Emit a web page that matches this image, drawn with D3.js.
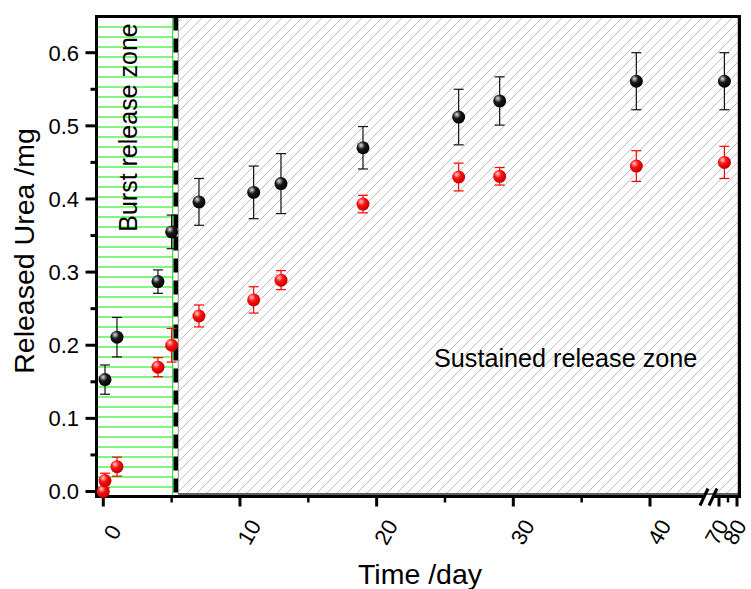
<!DOCTYPE html>
<html>
<head>
<meta charset="utf-8">
<script src="https://cdn.jsdelivr.net/npm/d3@7"></script>
<style>
  body { margin: 0; background: #fff; }
  text { font-family: Arial, "Liberation Sans", sans-serif; fill: #000; }
</style>
</head>
<body>
<div id="chart"></div>
<script>
// data
const blackDays = [0.125, 1, 4, 5, 7, 11, 13, 19, 26, 29, 39, 73];
const blackValues = [0.153, 0.211, 0.287, 0.355, 0.396, 0.409, 0.421, 0.470, 0.512, 0.534, 0.561, 0.561];
const blackErrors = [0.020, 0.027, 0.016, 0.023, 0.032, 0.036, 0.041, 0.029, 0.038, 0.033, 0.039, 0.039];

const redDays = [0, 0.125, 1, 4, 5, 7, 11, 13, 19, 26, 29, 39, 73];
const redValues = [0.000, 0.015, 0.034, 0.170, 0.200, 0.240, 0.262, 0.289, 0.393, 0.430, 0.431, 0.445, 0.450];
const redErrors = [0.005, 0.010, 0.013, 0.013, 0.023, 0.015, 0.018, 0.013, 0.012, 0.019, 0.012, 0.021, 0.022];

const yTicks = [0, 0.1, 0.2, 0.3, 0.4, 0.5, 0.6];
const xTicksLeft = [0, 10, 20, 30, 40];
const xTicksRight = [70, 80];
const burstEnd = 5.3; // day where the dashed separator sits

const width = 751, height = 589;
const plotLeft = 96.5, plotRight = 739.5, plotTop = 16.5, plotBottom = 496.5;
const breakAt = 703, resumeAt = 714;

const svg = d3.select("#chart").append("svg")
  .attr("width", width)
  .attr("height", height);

// scales: a broken x axis (0-44 | 70-80)
const x1 = d3.scaleLinear().domain([0, 40]).range([103.3, 650]);
const x2 = d3.scaleLinear().domain([70, 80]).range([719, 737]);
const x = d => d > 50 ? x2(d) : x1(d);
const y = d3.scaleLinear().domain([0, 0.6]).range([491.5, 52.7]);

const defs = svg.append("defs");

// grey diagonal hatch
const hatch = defs.append("pattern")
  .attr("id", "hatch")
  .attr("patternUnits", "userSpaceOnUse")
  .attr("width", 10).attr("height", 10);
hatch.append("path")
  .attr("d", "M0,10 L10,0 M-2,2 L2,-2 M8,12 L12,8")
  .attr("stroke", "#bdbdbd")
  .attr("stroke-width", 1);

// green horizontal hatch
const greenHatch = defs.append("pattern")
  .attr("id", "greenHatch")
  .attr("patternUnits", "userSpaceOnUse")
  .attr("x", 0).attr("y", 6.5)
  .attr("width", 10).attr("height", 10);
greenHatch.append("line")
  .attr("x1", 0).attr("x2", 10).attr("y1", 0.5).attr("y2", 0.5)
  .attr("stroke", "#00f000").attr("stroke-width", 1);

// shaded sphere markers
function sphere(id, hi, mid, edge) {
  const g = defs.append("radialGradient").attr("id", id)
    .attr("cx", "38%").attr("cy", "35%").attr("r", "65%").attr("fx", "35%").attr("fy", "30%");
  g.append("stop").attr("offset", "0%").attr("stop-color", hi);
  g.append("stop").attr("offset", "45%").attr("stop-color", mid);
  g.append("stop").attr("offset", "100%").attr("stop-color", edge);
}
sphere("ballBlack", "#e0e0e0", "#1a1a1a", "#000");
sphere("ballRed", "#ffd0d0", "#ff1010", "#c00000");

// zones
const burstX = x1(burstEnd);
svg.append("rect")
  .attr("x", plotLeft + 1).attr("y", plotTop + 1)
  .attr("width", burstX - 3 - plotLeft - 1).attr("height", plotBottom - plotTop - 2)
  .attr("fill", "url(#greenHatch)")
  .attr("stroke", "#00e000").attr("stroke-width", 1);

svg.append("rect")
  .attr("x", burstX + 2.5).attr("y", plotTop + 1)
  .attr("width", plotRight - burstX - 4).attr("height", plotBottom - plotTop - 3.5)
  .attr("fill", "url(#hatch)")
  .attr("stroke", "#8c8c8c").attr("stroke-width", 1);
svg.append("line")
  .attr("x1", burstX + 2.5).attr("x2", plotRight)
  .attr("y1", plotBottom - 2.5).attr("y2", plotBottom - 2.5)
  .attr("stroke", "#000").attr("stroke-width", 1);

svg.append("line")
  .attr("x1", burstX).attr("x2", burstX)
  .attr("y1", plotTop).attr("y2", plotBottom)
  .attr("stroke", "#000").attr("stroke-width", 4.5)
  .attr("stroke-dasharray", "14,8");

// frame + axes
const axisG = svg.append("g").attr("stroke", "#000").attr("fill", "none");
axisG.append("path")
  .attr("d", `M${plotLeft},${plotBottom} L${plotLeft},${plotTop} L${plotRight},${plotTop} L${plotRight},${plotBottom}`)
  .attr("stroke-width", 3);
axisG.append("line")
  .attr("x1", plotLeft - 1.5).attr("x2", breakAt).attr("y1", plotBottom).attr("y2", plotBottom)
  .attr("stroke-width", 3);
axisG.append("line")
  .attr("x1", resumeAt).attr("x2", plotRight + 1.5).attr("y1", plotBottom).attr("y2", plotBottom)
  .attr("stroke-width", 3);
// break marks
[breakAt - 3, breakAt + 6].forEach(bx => {
  axisG.append("line")
    .attr("x1", bx).attr("y1", plotBottom + 9)
    .attr("x2", bx + 8).attr("y2", plotBottom - 8)
    .attr("stroke-width", 3);
});

// y ticks
const yMinor = [0.05, 0.15, 0.25, 0.35, 0.45, 0.55];
axisG.selectAll(".ymaj").data(yTicks).join("line")
  .attr("x1", plotLeft - 11).attr("x2", plotLeft)
  .attr("y1", d => y(d)).attr("y2", d => y(d))
  .attr("stroke-width", 3);
axisG.selectAll(".ymin").data(yMinor).join("line")
  .attr("x1", plotLeft - 6).attr("x2", plotLeft)
  .attr("y1", d => y(d)).attr("y2", d => y(d))
  .attr("stroke-width", 3);
svg.append("g").selectAll("text").data(yTicks).join("text")
  .attr("x", 79).attr("y", d => y(d))
  .attr("dy", "0.36em")
  .attr("text-anchor", "end")
  .attr("font-size", 22)
  .text(d3.format(".1f"));

// x ticks
const xMajor = xTicksLeft.map(x1).concat(xTicksRight.map(x2));
const xMinor = [5, 15, 25, 35].map(x1).concat([x2(75)]);
axisG.selectAll(".xmaj").data(xMajor).join("line")
  .attr("x1", d => d).attr("x2", d => d)
  .attr("y1", plotBottom).attr("y2", plotBottom + 10)
  .attr("stroke-width", 3);
axisG.selectAll(".xmin").data(xMinor).join("line")
  .attr("x1", d => d).attr("x2", d => d)
  .attr("y1", plotBottom).attr("y2", plotBottom + 6)
  .attr("stroke-width", 2.5);
const xLabels = xTicksLeft.map(d => ({v: d, px: x1(d) + 9}))
  .concat(xTicksRight.map(d => ({v: d, px: x2(d) - 2.5})));
svg.append("g").selectAll("text").data(xLabels).join("text")
  .attr("transform", d => `translate(${d.px},${532}) rotate(-60)`)
  .attr("text-anchor", "middle")
  .attr("dy", "0.36em")
  .attr("font-size", 22)
  .text(d => d.v);

// axis titles
svg.append("text")
  .attr("transform", "translate(34,251) rotate(-90)")
  .attr("text-anchor", "middle")
  .attr("font-size", 28.5)
  .text("Released Urea /mg");
svg.append("text")
  .attr("x", 420).attr("y", 584)
  .attr("text-anchor", "middle")
  .attr("font-size", 28.5)
  .text("Time /day");

// zone labels
svg.append("text")
  .attr("transform", "translate(137,127.5) rotate(-90)")
  .attr("text-anchor", "middle")
  .attr("font-size", 25)
  .text("Burst release zone");
svg.append("text")
  .attr("x", 434).attr("y", 366.5)
  .attr("font-size", 25.2)
  .text("Sustained release zone");

// series
function drawSeries(days, values, errors, color, ball) {
  const data = days.map((d, i) => ({d, v: values[i], e: errors[i]}));
  const g = svg.append("g");
  const bars = g.append("g").attr("stroke", color).attr("stroke-width", 1.2);
  data.forEach(p => {
    const cx = x(p.d), y0 = y(p.v - p.e), y1 = y(p.v + p.e);
    bars.append("line").attr("x1", cx).attr("x2", cx).attr("y1", y0).attr("y2", y1);
    bars.append("line").attr("x1", cx - 5).attr("x2", cx + 5).attr("y1", y0).attr("y2", y0);
    bars.append("line").attr("x1", cx - 5).attr("x2", cx + 5).attr("y1", y1).attr("y2", y1);
  });
  g.selectAll("circle").data(data).join("circle")
    .attr("cx", p => x(p.d))
    .attr("cy", p => y(p.v))
    .attr("r", 6.5)
    .attr("fill", `url(#${ball})`);
}
drawSeries(blackDays, blackValues, blackErrors, "#111", "ballBlack");
drawSeries(redDays, redValues, redErrors, "#ff0000", "ballRed");
</script>
</body>
</html>
